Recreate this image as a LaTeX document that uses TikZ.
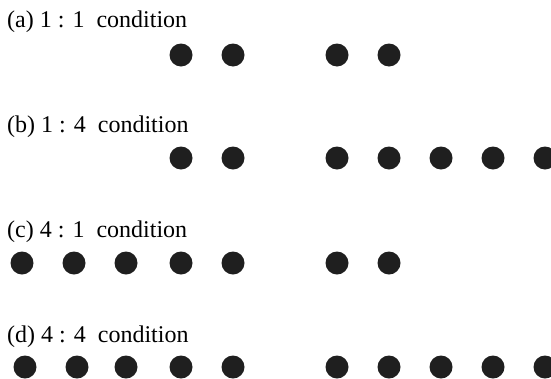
\documentclass[tikz,border=0pt]{standalone}
\usepackage{fontspec}
\setmainfont{Liberation Serif}
\begin{document}
\begin{tikzpicture}[x=1pt,y=-1pt,
  dot/.style={circle,fill=black!88,inner sep=0pt,minimum size=23pt},
  lbl/.style={anchor=base west,inner sep=0pt,font=\fontsize{24}{28}\selectfont}]
\useasboundingbox (0,0) rectangle (551,378);
% labels
\node[lbl] (la) at (7,27) {(a) 1 : 1\ \ condition};
\node[lbl] (lb) at (7,132) {(b) 1 : 4\ \ condition};
\node[lbl] (lc) at (7,237) {(c) 4 : 1\ \ condition};
\node[lbl] (ld) at (7,342) {(d) 4 : 4\ \ condition};
% row a
\foreach \x [count=\i] in {181,233,337,389} \node[dot] (a\i) at (\x,55) {};
% row b
\foreach \x [count=\i] in {181,233,337,389,441,493,545} \node[dot] (b\i) at (\x,158) {};
% row c
\foreach \x [count=\i] in {22,74,126,181,233,337,389} \node[dot] (c\i) at (\x,263) {};
% row d
\foreach \x [count=\i] in {25,77,126,181,233,337,389,441,493,545} \node[dot] (d\i) at (\x,367) {};
\end{tikzpicture}
\end{document}
